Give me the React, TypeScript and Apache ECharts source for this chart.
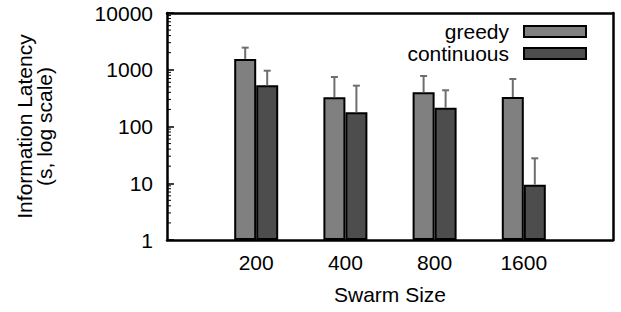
import React, { useEffect, useRef } from "react";
import * as echarts from "echarts";

const categories = ["", "200", "400", "800", "1600", ""];
const greedyMean = [null, 1550, 327, 401, 331, null];
const greedyErrTop = [null, 2450, 745, 776, 687, null];
const contMean = [null, 532, 178, 214, 9.4, null];
const contErrTop = [null, 962, 524, 435, 27.5, null];
const yTicks = [1, 10, 100, 1000, 10000];
const minorMultipliers = [2, 3, 4, 5, 6, 7, 8, 9];
const decades = [1, 10, 100, 1000];

const FONT = "Liberation Sans, Arial, Helvetica, sans-serif";
const FS = 21;
const BAR_W = 22;

function errData(mean: (number | null)[], top: (number | null)[]) {
  const out: number[][] = [];
  mean.forEach((m, i) => {
    const t = top[i];
    if (m != null && t != null) out.push([i, m, t]);
  });
  return out;
}

function errSeries(name: string, data: number[][], offset: number) {
  return {
    type: "custom",
    name: name + "-err",
    data,
    z: 5,
    silent: true,
    renderItem: (params: any, api: any) => {
      const p0 = api.coord([api.value(0), api.value(1)]);
      const p1 = api.coord([api.value(0), api.value(2)]);
      const x = p0[0] + offset;
      const style = { stroke: "#6e6e6e", lineWidth: 2 };
      return {
        type: "group",
        children: [
          { type: "line", shape: { x1: x, y1: p0[1], x2: x, y2: p1[1] }, style },
          { type: "line", shape: { x1: x - 3.5, y1: p1[1], x2: x + 3.5, y2: p1[1] }, style },
        ],
      };
    },
  };
}

export default function App() {
  const ref = useRef<HTMLDivElement>(null);
  useEffect(() => {
    document.body.style.margin = "0";
    const chart = echarts.init(ref.current!, null, { renderer: "svg" });
    const minorVals: number[][] = [];
    decades.forEach((d) => minorMultipliers.forEach((m) => minorVals.push([0, d * m])));
    const frameLine = { show: true, lineStyle: { color: "#000", width: 2.5 } };
    chart.setOption({
      animation: false,
      textStyle: { fontFamily: FONT },
      grid: { left: 167, top: 13, right: 8, bottom: 72 },
      legend: {
        orient: "vertical",
        right: 29,
        top: 16,
        align: "right",
        itemWidth: 62,
        itemHeight: 11,
        itemGap: 1,
        icon: "rect",
        textStyle: { fontSize: FS, color: "#000", fontFamily: FONT, padding: [0, 10, 0, 0] },
        data: ["greedy", "continuous"],
      },
      xAxis: [
        {
          type: "category",
          data: categories,
          boundaryGap: false,
          axisLine: frameLine,
          axisTick: { show: false },
          axisLabel: { fontSize: FS, color: "#000", margin: 12, interval: 0, fontFamily: FONT },
          name: "Swarm Size",
          nameLocation: "middle",
          nameGap: 44,
          nameTextStyle: { fontSize: FS, color: "#000", fontFamily: FONT },
          splitLine: { show: false },
        },
        {
          type: "category",
          data: categories,
          boundaryGap: false,
          position: "top",
          axisLine: frameLine,
          axisTick: { show: false },
          axisLabel: { show: false },
          splitLine: { show: false },
        },
      ],
      yAxis: [
        {
          type: "log",
          logBase: 10,
          min: yTicks[0],
          max: yTicks[yTicks.length - 1],
          axisLine: frameLine,
          axisTick: { show: true, inside: true, length: 7, lineStyle: { color: "#000", width: 1.5 } },
          axisLabel: {
            fontSize: FS,
            color: "#000",
            margin: 14,
            fontFamily: FONT,
            formatter: (v: number) => String(Math.round(v)),
          },
          splitLine: { show: false },
          name: "Information Latency\n(s, log scale)",
          nameLocation: "middle",
          nameGap: 113,
          nameTextStyle: { fontSize: FS, color: "#000", fontFamily: FONT, lineHeight: 20 },
        },
        {
          type: "log",
          logBase: 10,
          min: yTicks[0],
          max: yTicks[yTicks.length - 1],
          position: "right",
          axisLine: frameLine,
          axisTick: { show: false },
          axisLabel: { show: false },
          splitLine: { show: false },
        },
      ],
      series: [
        {
          type: "bar",
          name: "greedy",
          data: greedyMean,
          barWidth: BAR_W,
          barGap: "0%",
          itemStyle: { color: "#808080", borderColor: "#000", borderWidth: 2 },
          z: 3,
        },
        {
          type: "bar",
          name: "continuous",
          data: contMean,
          barWidth: BAR_W,
          barGap: "0%",
          itemStyle: { color: "#4d4d4d", borderColor: "#000", borderWidth: 2 },
          z: 3,
        },
        errSeries("greedy", errData(greedyMean, greedyErrTop), -BAR_W / 2),
        errSeries("continuous", errData(contMean, contErrTop), BAR_W / 2),
        {
          type: "custom",
          name: "minor",
          data: minorVals,
          silent: true,
          z: 6,
          renderItem: (params: any, api: any) => {
            const p = api.coord([api.value(0), api.value(1)]);
            return {
              type: "line",
              shape: { x1: p[0], y1: p[1], x2: p[0] + 4, y2: p[1] },
              style: { stroke: "#000", lineWidth: 1 },
            };
          },
        },
      ],
    });
    return () => chart.dispose();
  }, []);
  return <div ref={ref} style={{ width: 621, height: 312 }} />;
}
